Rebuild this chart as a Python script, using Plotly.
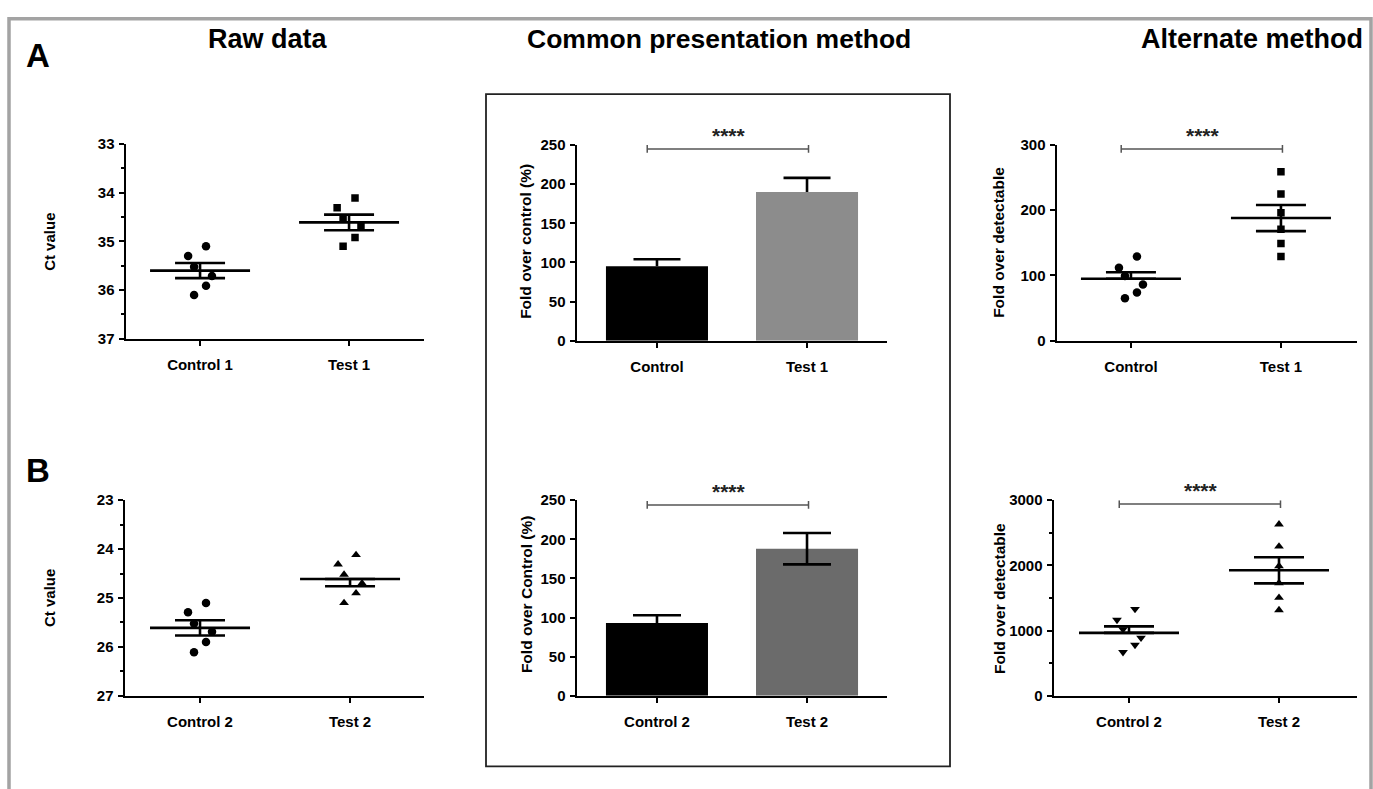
import plotly.graph_objects as go

W, H = 1373, 789
FONT = "Liberation Sans, Arial, Helvetica, sans-serif"

# ---------------- data ----------------
raw_a_labels = ["Control 1", "Test 1"]
raw_a_control = [35.10, 35.30, 35.52, 35.71, 35.91, 36.10]
raw_a_test = [34.11, 34.31, 34.53, 34.68, 34.92, 35.10]
raw_a_mean = [35.60, 34.61]
raw_a_sem_plus = [0.155, 0.16]
raw_a_sem_minus = [0.155, 0.16]

raw_b_labels = ["Control 2", "Test 2"]
raw_b_control = [25.10, 25.29, 25.52, 25.69, 25.90, 26.11]
raw_b_test = [24.12, 24.31, 24.52, 24.70, 24.90, 25.10]
raw_b_mean = [25.61, 24.61]
raw_b_sem_plus = [0.155, 0.15]
raw_b_sem_minus = [0.155, 0.0]

mid_a_labels = ["Control", "Test 1"]
mid_a_values = [95, 190]
mid_a_sem = [9, 18]

mid_b_labels = ["Control 2", "Test 2"]
mid_b_values = [93, 188]
mid_b_sem = [10, 20]

alt_a_labels = ["Control", "Test 1"]
alt_a_control = [129, 112, 99, 86, 74, 65]
alt_a_test = [259, 225, 196, 171, 149, 129]
alt_a_mean = [95, 188]
alt_a_sem_plus = [10, 20]
alt_a_sem_minus = [0, 20]

alt_b_labels = ["Control 2", "Test 2"]
alt_b_control = [1330, 1165, 1020, 890, 780, 670]
alt_b_test = [2630, 2290, 1990, 1730, 1505, 1315]
alt_b_mean = [965, 1925]
alt_b_sem_plus = [100, 200]
alt_b_sem_minus = [0, 200]

sig_text = "****"
sig_levels = {"mid_a": 245, "mid_b": 244, "alt_a": 294, "alt_b": 2940}

# ---------------- layout helpers ----------------
JIT_SPREAD = [0.04, -0.08, -0.04, 0.08, 0.04, -0.04]
JIT_NONE = [0, 0, 0, 0, 0, 0]


def px(x):
    return x / W


def py(y):
    return 1 - y / H


def dom_x(a, b):
    return [px(a), px(b)]


def dom_y(top, bottom):
    return [py(bottom), py(top)]


fig = go.Figure()

AX_COMMON = dict(
    showline=True, linecolor="black", linewidth=2.5,
    ticks="outside", ticklen=5, tickwidth=2, tickcolor="black",
    showgrid=False, zeroline=False, fixedrange=True,
)
TICKFONT = dict(family=FONT, size=15, color="black", weight="bold")
CATFONT = dict(family=FONT, size=15, color="black", weight="bold")

panels = {
    "raw_a": (1, (126, 424), (138, 337), [-0.497, 1.503], [37, 33], [33, 34, 35, 36, 37], 0.5),
    "raw_b": (2, (125, 424), (502, 702), [-0.5, 1.493], [27, 23], [23, 24, 25, 26, 27], 0.5),
    "mid_a": (3, (577, 887), (139, 339), [-0.533, 1.533], [0, 250], [0, 50, 100, 150, 200, 250], None),
    "mid_b": (4, (577, 887), (502, 702), [-0.533, 1.533], [0, 250], [0, 50, 100, 150, 200, 250], None),
    "alt_a": (5, (1057, 1357), (139, 339), [-0.493, 1.507], [0, 300], [0, 100, 200, 300], None),
    "alt_b": (6, (1054, 1357), (502, 702), [-0.5, 1.52], [0, 3000], [0, 1000, 2000, 3000], 500),
}
labels_for = {
    "raw_a": raw_a_labels, "raw_b": raw_b_labels, "mid_a": mid_a_labels,
    "mid_b": mid_b_labels, "alt_a": alt_a_labels, "alt_b": alt_b_labels,
}

layout_axes = {}
for name, (i, xd, yd, xr, yr, ytv, minor) in panels.items():
    xk = "xaxis" if i == 1 else f"xaxis{i}"
    yk = "yaxis" if i == 1 else f"yaxis{i}"
    layout_axes[xk] = dict(
        AX_COMMON, domain=dom_x(*xd), range=xr, tickmode="array",
        tickvals=[0, 1], ticktext=labels_for[name], tickfont=CATFONT,
        anchor=f"y{i if i > 1 else ''}", ticklabelstandoff=6,
    )
    yax = dict(
        AX_COMMON, domain=dom_y(*yd), range=yr, tickmode="array",
        tickvals=ytv, tickfont=TICKFONT, anchor=f"x{i if i > 1 else ''}",
        ticklabelstandoff=1,
    )
    if minor:
        yax["minor"] = dict(dtick=minor, ticks="outside", ticklen=3,
                            tickwidth=2, tickcolor="black", showgrid=False)
    layout_axes[yk] = yax


def axref(i):
    return ("x" if i == 1 else f"x{i}"), ("y" if i == 1 else f"y{i}")


def add_points(i, cat, values, jitter, symbol, size):
    xa, ya = axref(i)
    fig.add_trace(go.Scatter(
        x=[cat + j for j in jitter], y=values, mode="markers", xaxis=xa, yaxis=ya,
        marker=dict(symbol=symbol, size=size, color="black", line=dict(width=0)),
        showlegend=False, hoverinfo="skip"))


def add_mean_sem(i, means, plus, minus):
    xa, ya = axref(i)
    fig.add_trace(go.Scatter(
        x=[0, 1], y=means, mode="markers", xaxis=xa, yaxis=ya,
        marker=dict(symbol="line-ew-open", size=100 / 1.4, color="black",
                    line=dict(width=2.6, color="black")),
        error_y=dict(type="data", symmetric=False, array=plus, arrayminus=minus,
                     width=25, thickness=2.6, color="black"),
        showlegend=False, hoverinfo="skip"))


def add_sig(i, level, d):
    xa, ya = axref(i)
    x0, x1 = -0.065, 1.01
    fig.add_trace(go.Scatter(
        x=[x0, x0, None, x0, x1, None, x1, x1],
        y=[level - d, level + d, None, level, level, None, level - d, level + d],
        mode="lines", line=dict(color="#555555", width=1.5), xaxis=xa, yaxis=ya,
        cliponaxis=False, showlegend=False, hoverinfo="skip"))
    fig.add_annotation(x=0.48, y=level, xref=xa, yref=ya, text=sig_text,
                       showarrow=False, yanchor="bottom", yshift=0,
                       font=dict(family=FONT, size=21, color="#222222", weight="bold"))


# Raw data A
add_points(1, 0, raw_a_control, JIT_SPREAD, "circle", 8.5)
add_points(1, 1, raw_a_test, JIT_SPREAD, "square", 7.5)
add_mean_sem(1, raw_a_mean, raw_a_sem_plus, raw_a_sem_minus)

# Raw data B
add_points(2, 0, raw_b_control, JIT_SPREAD, "circle", 8.5)
add_points(2, 1, raw_b_test, JIT_SPREAD, "triangle-up", 8.5)
add_mean_sem(2, raw_b_mean, raw_b_sem_plus, raw_b_sem_minus)

# Common presentation A (upper SEM only)
fig.add_trace(go.Bar(x=[0, 1], y=mid_a_values, width=0.68, xaxis="x3", yaxis="y3",
                     marker=dict(color=["#000000", "#8c8c8c"], line=dict(width=0)),
                     showlegend=False, hoverinfo="skip"))
fig.add_trace(go.Scatter(
    x=[0, 1], y=mid_a_values, mode="markers", xaxis="x3", yaxis="y3",
    marker=dict(size=1, color="rgba(0,0,0,0)"),
    error_y=dict(type="data", symmetric=False, array=mid_a_sem, arrayminus=[0, 0],
                 width=0, thickness=2.6, color="black"),
    showlegend=False, hoverinfo="skip"))
fig.add_trace(go.Scatter(
    x=[0, 1], y=[v + s for v, s in zip(mid_a_values, mid_a_sem)], mode="markers",
    xaxis="x3", yaxis="y3",
    marker=dict(symbol="line-ew-open", size=47 / 1.4, color="black",
                line=dict(width=2.6, color="black")),
    showlegend=False, hoverinfo="skip"))
add_sig(3, sig_levels["mid_a"], 5)

# Common presentation B
fig.add_trace(go.Bar(x=[0, 1], y=mid_b_values, width=0.68, xaxis="x4", yaxis="y4",
                     marker=dict(color=["#000000", "#6b6b6b"], line=dict(width=0)),
                     error_y=dict(type="data", array=mid_b_sem, width=24,
                                  thickness=2.6, color="black"),
                     showlegend=False, hoverinfo="skip"))
add_sig(4, sig_levels["mid_b"], 5)

# Alternate A
add_points(5, 0, alt_a_control, JIT_SPREAD, "circle", 8.5)
add_points(5, 1, alt_a_test, JIT_NONE, "square", 7.5)
add_mean_sem(5, alt_a_mean, alt_a_sem_plus, alt_a_sem_minus)
add_sig(5, sig_levels["alt_a"], 6)

# Alternate B
add_points(6, 0, alt_b_control, JIT_SPREAD, "triangle-down", 8.5)
add_points(6, 1, alt_b_test, JIT_NONE, "triangle-up", 8.5)
add_mean_sem(6, alt_b_mean, alt_b_sem_plus, alt_b_sem_minus)
add_sig(6, sig_levels["alt_b"], 60)

# ---------------- text annotations ----------------
def add_text(x, y, text, size, angle=0, weight="bold"):
    fig.add_annotation(x=px(x), y=py(y), xref="paper", yref="paper", text=text,
                       showarrow=False, xanchor="center", yanchor="middle",
                       textangle=angle,
                       font=dict(family=FONT, size=size, color="black", weight=weight))


add_text(268, 31, "Raw data", 27)
add_text(719, 31, "Common presentation method", 26.5)
add_text(1252, 31, "Alternate method", 27)
add_text(38, 48, "A", 33)
add_text(38, 472, "B", 33)

add_text(50, 238, "Ct value", 15, -90)
add_text(49, 602, "Ct value", 15, -90)
add_text(526, 238, "Fold over control (%)", 15.5, -90)
add_text(526, 598, "Fold over Control (%)", 15.5, -90)
add_text(999, 239, "Fold over detectable", 15.5, -90)
add_text(999, 603, "Fold over detectable", 15.5, -90)

# ---------------- frames ----------------
shapes = [
    dict(type="rect", xref="paper", yref="paper", x0=px(9), x1=px(1371),
         y0=py(820), y1=py(10), line=dict(color="#a3a3a3", width=3.5)),
    dict(type="rect", xref="paper", yref="paper", x0=px(486), x1=px(950),
         y0=py(774), y1=py(87), line=dict(color="#222222", width=1.8)),
]

fig.update_layout(
    width=W, height=H, autosize=False,
    margin=dict(l=0, r=0, t=0, b=0),
    paper_bgcolor="white", plot_bgcolor="white",
    showlegend=False, shapes=shapes,
    **layout_axes,
)

fig.write_html(
    "out.html",
    config={"displayModeBar": False, "staticPlot": True},
    post_script="document.body.style.margin='0';document.body.style.overflow='hidden';",
)
